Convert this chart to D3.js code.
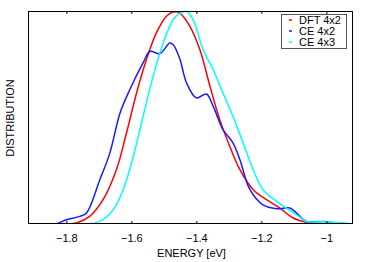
<!DOCTYPE html>
<html>
<head>
<meta charset="utf-8">
<style>
  body { margin: 0; background: #fff; }
  text { font-family: "Liberation Sans", Arial, sans-serif; font-size: 11px; fill: #000; }
</style>
</head>
<body>
<script src="https://d3js.org/d3.v7.min.js"></script>
<script>
// energies [eV] and normalized distribution
var dftE = [-1.918, -1.80, -1.769, -1.728, -1.687, -1.646, -1.615, -1.584, -1.554, -1.523, -1.492, -1.471, -1.451, -1.420, -1.389, -1.358, -1.328, -1.297, -1.266, -1.225, -1.184, -1.143, -1.102, -1.061, -1.02, -0.918];
var dftD = [0, 0, 0.005, 0.036, 0.114, 0.255, 0.427, 0.615, 0.77, 0.897, 0.975, 0.995, 0.99, 0.928, 0.818, 0.646, 0.49, 0.364, 0.255, 0.161, 0.114, 0.075, 0.028, 0.008, 0, 0];

var ce42E = [-1.918, -1.835, -1.80, -1.758, -1.738, -1.697, -1.666, -1.635, -1.605, -1.564, -1.543, -1.512, -1.482, -1.471, -1.451, -1.430, -1.40, -1.369, -1.348, -1.318, -1.287, -1.266, -1.235, -1.195, -1.153, -1.112, -1.092, -1.061, -1.01, -0.969, -0.918];
var ce42D = [0, 0, 0.02, 0.036, 0.052, 0.208, 0.334, 0.52, 0.63, 0.756, 0.81, 0.80, 0.85, 0.842, 0.776, 0.662, 0.592, 0.61, 0.552, 0.443, 0.38, 0.302, 0.161, 0.09, 0.072, 0.075, 0.052, 0.012, 0.012, 0.005, 0];

var ce43E = [-1.918, -1.738, -1.697, -1.656, -1.625, -1.594, -1.564, -1.533, -1.502, -1.471, -1.451, -1.430, -1.410, -1.379, -1.348, -1.318, -1.287, -1.256, -1.225, -1.195, -1.153, -1.123, -1.092, -1.061, -1.01, -0.918];
var ce43D = [0, 0, 0.012, 0.067, 0.161, 0.317, 0.505, 0.693, 0.85, 0.96, 0.99, 0.998, 0.96, 0.818, 0.724, 0.615, 0.505, 0.38, 0.255, 0.161, 0.106, 0.075, 0.044, 0.012, 0.01, 0];

var xTicks = [-1.8, -1.6, -1.4, -1.2, -1];
var seriesNames = ["DFT 4x2", "CE 4x2", "CE 4x3"];
var seriesColors = ["#ff0000", "#1a1aff", "#00ffff"];

var W = 374, H = 262;
var m = {left: 28, right: 21, top: 11, bottom: 38};

var svg = d3.select("body").append("svg").attr("width", W).attr("height", H);

var x = d3.scaleLinear().domain([-1.918, -0.918]).range([m.left, W - m.right]);
var y = d3.scaleLinear().domain([0, 1]).range([H - m.bottom, m.top]);

var series = [
  {name: seriesNames[0], color: seriesColors[0], e: dftE, d: dftD},
  {name: seriesNames[1], color: seriesColors[1], e: ce42E, d: ce42D},
  {name: seriesNames[2], color: seriesColors[2], e: ce43E, d: ce43D}
];

var line = d3.line()
    .x(p => x(p[0])).y(p => y(p[1]))
    .curve(d3.curveCatmullRom.alpha(0.5));

svg.append("clipPath").attr("id", "plotclip")
  .append("rect").attr("x", m.left).attr("y", m.top - 1)
  .attr("width", W - m.left - m.right).attr("height", H - m.top - m.bottom + 1);

svg.append("g").attr("clip-path", "url(#plotclip)")
  .selectAll("path").data(series).enter().append("path")
    .attr("d", s => line(s.e.map((v, i) => [v, s.d[i]])))
    .attr("fill", "none")
    .attr("stroke", s => s.color)
    .attr("stroke-width", 1.5);

// bottom axis, ticks pointing inward
var xAxis = svg.append("g")
    .attr("transform", "translate(0," + (H - m.bottom) + ")")
    .call(d3.axisBottom(x).tickValues(xTicks).tickSizeInner(-3).tickSizeOuter(0).tickPadding(10)
      .tickFormat(d3.format("")));
xAxis.select(".domain").remove();
xAxis.selectAll("text").style("font-size", "11px");

// top mirror ticks
var xTop = svg.append("g")
    .attr("transform", "translate(0," + m.top + ")")
    .call(d3.axisTop(x).tickValues(xTicks).tickSizeInner(-3).tickSizeOuter(0).tickFormat(""));
xTop.select(".domain").remove();

// frame
svg.append("rect")
    .attr("x", m.left + 0.5).attr("y", m.top + 0.5)
    .attr("width", W - m.left - m.right - 1).attr("height", H - m.top - m.bottom - 1)
    .attr("fill", "none").attr("stroke", "#000").attr("stroke-width", 1);

// axis titles
svg.append("text")
    .attr("x", (m.left + W - m.right) / 2 + 1).attr("y", 257)
    .attr("text-anchor", "middle")
    .text("ENERGY [eV]");

svg.append("text")
    .attr("transform", "translate(14," + 118 + ") rotate(-90)")
    .attr("text-anchor", "middle")
    .text("DISTRIBUTION");

// legend
var lg = svg.append("g").attr("transform", "translate(281,14)");
lg.append("rect").attr("x", 0.5).attr("y", 0.5).attr("width", 65).attr("height", 34)
    .attr("fill", "#fff").attr("stroke", "#555").attr("stroke-width", 1);
var rows = lg.selectAll("g.row").data(series).enter().append("g")
    .attr("transform", (s, i) => "translate(0," + (6 + i * 11) + ")");
rows.append("line").attr("x1", 8).attr("x2", 11).attr("y1", 0).attr("y2", 0)
    .attr("stroke", s => s.color).attr("stroke-width", 1.5);
rows.append("text").attr("x", 18).attr("y", 4).text(s => s.name);
</script>
</body>
</html>
